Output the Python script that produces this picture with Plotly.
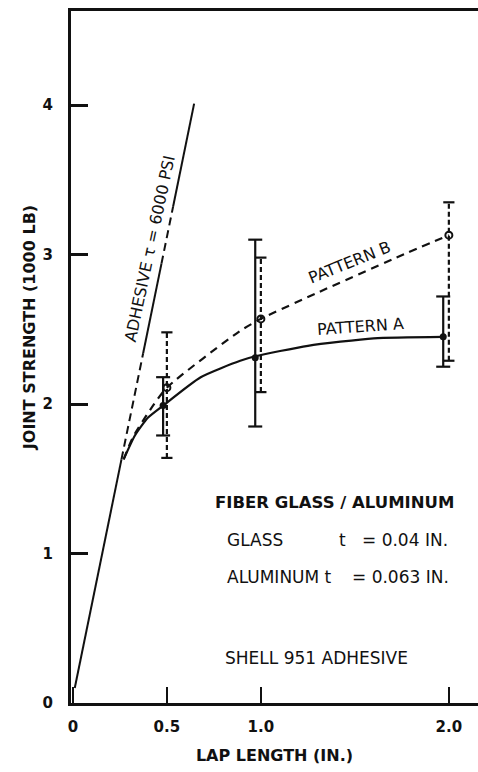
import numpy as np
import plotly.graph_objects as go

# Lap length (in.) and joint strength (1000 lb)
x_ticks = [0, 0.5, 1.0, 2.0]
x_tick_text = ["0", "0.5", "1.0", "2.0"]
y_ticks = [0, 1, 2, 3, 4]

# Adhesive shear limit line, tau = 6000 psi
adhesive_x = [0.01, 0.645]
adhesive_y = [0.10, 4.01]
adhesive_breaks_y = [0.10, 1.63, 2.34, 2.94, 3.32, 4.01]
adhesive_styles = ["solid", "8px,5px", "solid", "8px,5px", "solid"]

# Pattern A (solid) and Pattern B (dashed) curves
curve_a_x = [0.27, 0.33, 0.40, 0.48, 0.68, 0.89, 0.97, 1.25, 1.60, 1.97]
curve_a_y = [1.63, 1.79, 1.91, 1.99, 2.18, 2.29, 2.32, 2.39, 2.44, 2.45]
curve_b_x = [0.27, 0.32, 0.41, 0.50, 0.89, 1.00, 1.31, 1.72, 2.00]
curve_b_y = [1.63, 1.78, 1.96, 2.11, 2.49, 2.57, 2.75, 2.98, 3.13]

# Test points with scatter ranges
a_x = [0.48, 0.97, 1.97]
a_mean = [1.99, 2.31, 2.45]
a_low = [1.79, 1.85, 2.25]
a_high = [2.18, 3.10, 2.72]

b_x = [0.50, 1.00, 2.00]
b_mean = [2.11, 2.57, 3.13]
b_low = [1.64, 2.08, 2.29]
b_high = [2.48, 2.98, 3.35]

FONT = "DejaVu Sans"
INK = "#111111"

fig = go.Figure()

# adhesive line, drawn piecewise in its solid / dashed runs
for i, style in enumerate(adhesive_styles):
    ys = adhesive_breaks_y[i:i + 2]
    xs = list(np.interp(ys, adhesive_y, adhesive_x))
    fig.add_trace(go.Scatter(x=xs, y=ys, mode="lines",
                             line=dict(color=INK, width=2, dash=style),
                             hoverinfo="skip", showlegend=False))

fig.add_trace(go.Scatter(x=curve_a_x, y=curve_a_y, mode="lines",
                         line=dict(color=INK, width=2.2, shape="spline", smoothing=0.6),
                         showlegend=False, hoverinfo="skip"))
fig.add_trace(go.Scatter(x=curve_b_x, y=curve_b_y, mode="lines",
                         line=dict(color=INK, width=2.2, shape="spline", smoothing=0.6,
                                   dash="8px,6px"),
                         showlegend=False, hoverinfo="skip"))


def range_bars(xs, lows, highs, dash, cap):
    bx, by = [], []
    for x, lo, hi in zip(xs, lows, highs):
        bx += [x, x, None]
        by += [lo, hi, None]
    fig.add_trace(go.Scatter(x=bx, y=by, mode="lines",
                             line=dict(color=INK, width=2.2, dash=dash),
                             showlegend=False, hoverinfo="skip"))
    fig.add_trace(go.Scatter(x=list(xs) * 2, y=list(lows) + list(highs), mode="markers",
                             marker=dict(symbol="line-ew", size=cap, color=INK,
                                         line=dict(color=INK, width=2.2)),
                             showlegend=False, hoverinfo="skip"))


range_bars(a_x, a_low, a_high, "solid", 10)
range_bars(b_x, b_low, b_high, "5px,3px", 8)

fig.add_trace(go.Scatter(x=a_x, y=a_mean, mode="markers",
                         marker=dict(symbol="circle", size=7, color=INK),
                         showlegend=False, name="PATTERN A"))
fig.add_trace(go.Scatter(x=b_x, y=b_mean, mode="markers",
                         marker=dict(symbol="circle-open", size=7, color=INK,
                                     line=dict(color=INK, width=2)),
                         showlegend=False, name="PATTERN B"))

ann = []


def label(text, x, y, size=17, angle=0, bold=False, xanchor="center", xref="x", yref="y"):
    ann.append(dict(text=f"<b>{text}</b>" if bold else text, x=x, y=y, xref=xref, yref=yref,
                    showarrow=False, textangle=angle, xanchor=xanchor, yanchor="middle",
                    font=dict(family=FONT, size=size, color=INK)))


label("ADHESIVE \u03c4 = 6000 PSI", 0.41, 3.04, size=16, angle=-78)
label("PATTERN B", 1.47, 2.95, size=16, angle=-22)
label("PATTERN A", 1.53, 2.52, size=16, angle=-4)

label("FIBER GLASS / ALUMINUM", 0.745, 1.34, size=16.5, bold=True, xanchor="left")
label("GLASS", 0.809, 1.09, xanchor="left")
label("t", 1.404, 1.09, xanchor="left")
label("= 0.04 IN.", 1.527, 1.09, xanchor="left")
label("ALUMINUM t", 0.809, 0.84, xanchor="left")
label("= 0.063 IN.", 1.473, 0.84, xanchor="left")
label("SHELL 951 ADHESIVE", 0.800, 0.30, xanchor="left")

label("JOINT STRENGTH (1000 LB)", -0.10, 2.51, size=16, angle=-90, bold=True, xref="paper")

fig.update_layout(
    width=478, height=772,
    margin=dict(l=71, r=0, t=11, b=69),
    paper_bgcolor="white", plot_bgcolor="white",
    annotations=ann,
    font=dict(family=FONT, color=INK),
    xaxis=dict(range=[-0.01, 2.155], tickvals=x_ticks, ticktext=x_tick_text,
               ticks="inside", ticklen=16, tickwidth=2, tickcolor=INK,
               showline=True, linewidth=2.5, linecolor=INK, mirror=True,
               showgrid=False, zeroline=False, ticklabelstandoff=8,
               tickfont=dict(family=FONT, size=15, color=INK, weight="bold"),
               title=dict(text="<b>LAP LENGTH (IN.)</b>", standoff=16,
                          font=dict(family=FONT, size=16, color=INK))),
    yaxis=dict(range=[0, 4.63], tickvals=y_ticks,
               ticks="inside", ticklen=17, tickwidth=2.5, tickcolor=INK,
               showline=True, linewidth=3, linecolor=INK,
               showgrid=False, zeroline=False, ticklabelstandoff=12,
               tickfont=dict(family=FONT, size=15, color=INK, weight="bold")),
)

fig.write_html("out.html")
